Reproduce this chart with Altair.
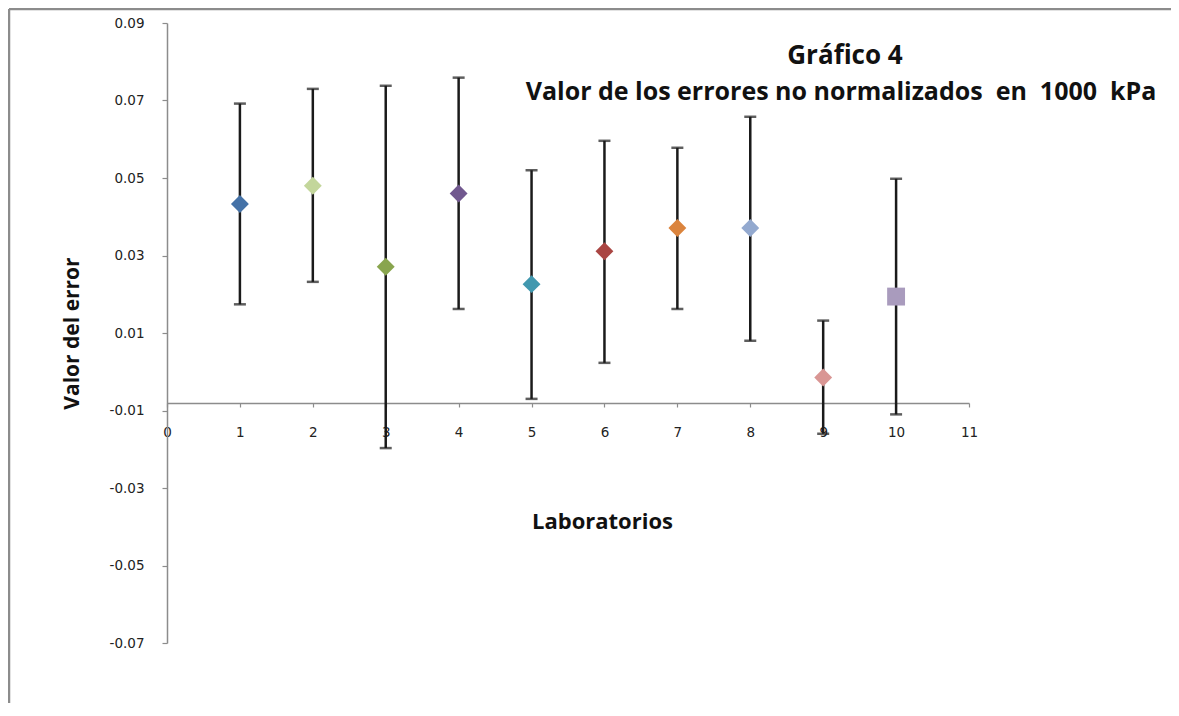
import altair as alt
import pandas as pd

labs = [1, 2, 3, 4, 5, 6, 7, 8, 9, 10]
values = [0.0433, 0.0480, 0.0271, 0.0460, 0.0226, 0.0311, 0.0371, 0.0371, -0.0015, 0.0194]
lows = [0.0174, 0.0232, -0.0197, 0.0162, -0.0070, 0.0023, 0.0162, 0.0080, -0.0160, -0.0110]
highs = [0.0692, 0.0730, 0.0738, 0.0759, 0.0520, 0.0596, 0.0578, 0.0658, 0.0132, 0.0498]
colors = ["#4572A7", "#C3D69B", "#89A54E", "#71588F", "#4198AF",
          "#AA4643", "#DB843D", "#93A9CF", "#D99694", "#A99BBD"]
shapes = ["diamond"] * 9 + ["square"]
y_ticks = [-0.07, -0.05, -0.03, -0.01, 0.01, 0.03, 0.05, 0.07, 0.09]
x_ticks = list(range(0, 12))
title_lines = ["Gr\u00e1fico 4",
               "Valor de los errores no normalizados\u00a0 en\u00a0 1000\u00a0 kPa"]

df = pd.DataFrame({"lab": labs, "val": values, "lo": lows, "hi": highs,
                   "shape": shapes})

W, H = 802, 620

xs = alt.Scale(domain=[0, 11], nice=False, zero=False)
ys = alt.Scale(domain=[-0.07, 0.09], nice=False, zero=False)

x_axis = alt.Axis(values=x_ticks, format="d", grid=False, offset=-240,
                  labelFlush=False, labelOverlap=False,
                  domainColor="#8c8c8c", domainWidth=1.5, tickColor="#8c8c8c",
                  tickSize=4, tickWidth=1.2, labelPadding=18,
                  labelFont="DejaVu Sans", labelFontSize=13.5, labelColor="#222222",
                  title="Laboratorios", titleFont="Open Sans", titleFontSize=22,
                  titleFontWeight="bold", titleColor="#111111",
                  titleX=435, titleY=118, titleAlign="center", titleBaseline="middle")

y_axis = alt.Axis(values=y_ticks, grid=False, labelFlush=False, labelOverlap=False,
                  labelExpr="replace(format(datum.value, '.2f'), '\u2212', '-')",
                  domainColor="#8c8c8c", domainWidth=1.5, tickColor="#8c8c8c",
                  tickSize=5, tickWidth=1.2, labelPadding=18,
                  labelFont="DejaVu Sans", labelFontSize=13.5, labelColor="#222222",
                  title="Valor del error", titleFont="Open Sans", titleFontSize=21,
                  titleFontWeight="bold", titleColor="#111111",
                  titleX=-95, titleY=310, titleAngle=270, titleAlign="center",
                  titleBaseline="middle")

base = alt.Chart(df)

bars = base.mark_rule(color="#1a1a1a", strokeWidth=2.5).encode(
    x=alt.X("lab:Q", scale=xs, axis=x_axis),
    y=alt.Y("lo:Q", scale=ys, axis=y_axis),
    y2="hi:Q",
)
cap_lo = base.mark_tick(color="#1a1a1a", orient="horizontal", size=12, thickness=2.5).encode(
    x=alt.X("lab:Q", scale=xs), y=alt.Y("lo:Q", scale=ys))
cap_hi = base.mark_tick(color="#1a1a1a", orient="horizontal", size=12, thickness=2.5).encode(
    x=alt.X("lab:Q", scale=xs), y=alt.Y("hi:Q", scale=ys))

points = base.mark_point(filled=True, opacity=1, size=320).encode(
    x=alt.X("lab:Q", scale=xs),
    y=alt.Y("val:Q", scale=ys),
    color=alt.Color("lab:N", scale=alt.Scale(domain=labs, range=colors), legend=None),
    shape=alt.Shape("shape:N", scale=alt.Scale(domain=["diamond", "square"],
                                                range=["diamond", "square"]), legend=None),
)

one = pd.DataFrame({"k": [0]})
frame_left = alt.Chart(one).mark_rule(color="#8c8c8c", strokeWidth=2.5).encode(
    x=alt.value(-158), y=alt.value(-14), y2=alt.value(700))
frame_top = alt.Chart(one).mark_rule(color="#8c8c8c", strokeWidth=2.5).encode(
    x=alt.value(-158), x2=alt.value(1012), y=alt.value(-14))

title_style = dict(font="Open Sans", fontWeight="bold", color="#111111",
                   align="center", baseline="middle")
t1 = alt.Chart(pd.DataFrame({"t": [title_lines[0]]})).mark_text(fontSize=26, **title_style).encode(
    text="t:N", x=alt.value(678), y=alt.value(33))
t2 = alt.Chart(pd.DataFrame({"t": [title_lines[1]]})).mark_text(fontSize=25, **title_style).encode(
    text="t:N", x=alt.value(674), y=alt.value(69))

chart = alt.layer(frame_left, frame_top, bars, cap_lo, cap_hi, points, t1, t2).properties(
    width=W, height=H,
    autosize=alt.AutoSizeParams(type="none"),
    padding={"left": 159, "top": 15, "right": 202, "bottom": 60},
).configure(background="white", view=alt.ViewConfig(stroke=None))

chart.save("out.html", embed_options={"renderer": "svg", "actions": False})
